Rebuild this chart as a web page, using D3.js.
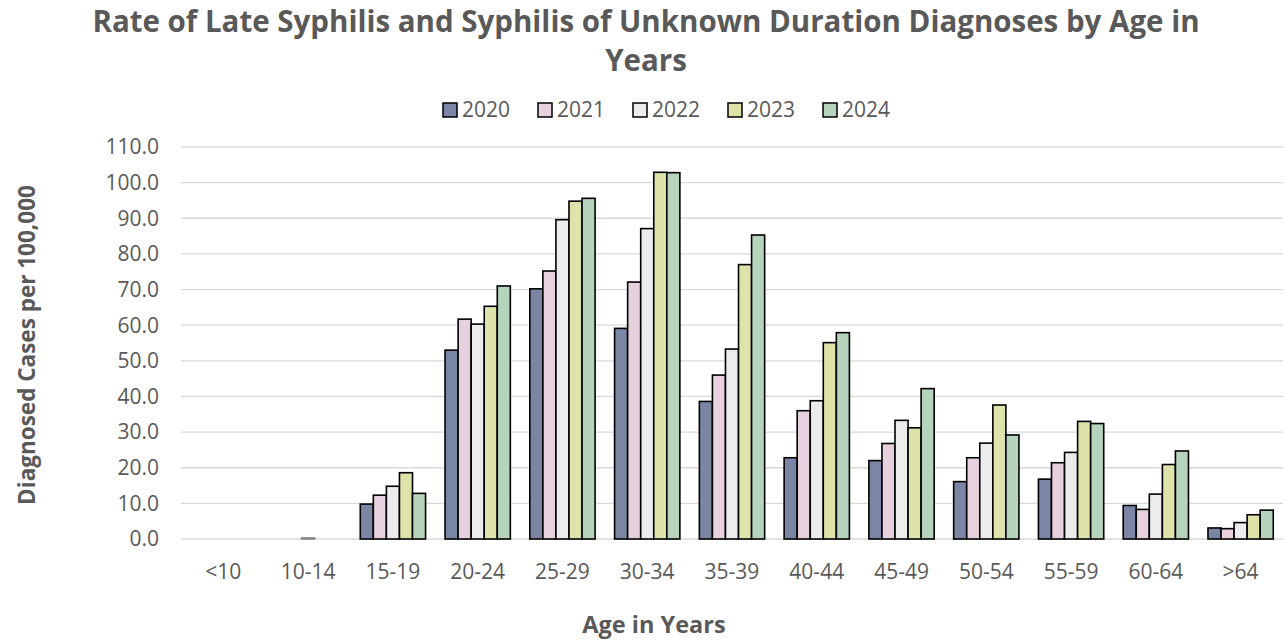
<!DOCTYPE html>
<html>
<head>
<meta charset="utf-8">
<script src="https://cdn.jsdelivr.net/npm/d3@7"></script>
<style>
  body { margin: 0; background: #fff; }
  text { font-family: "Open Sans", "Noto Sans", sans-serif; }
</style>
</head>
<body>
<svg id="chart" width="1286" height="644"></svg>
<script>
// age groups along the x axis
const ageGroups = ["<10", "10-14", "15-19", "20-24", "25-29", "30-34", "35-39", "40-44", "45-49", "50-54", "55-59", "60-64", ">64"];
const years = ["2020", "2021", "2022", "2023", "2024"];
const yearColors = ["#7b85a4", "#e7d1df", "#ececec", "#dee3aa", "#b6d4bb"];

// rates per 100,000
const rate2020 = [0, 0, 9.8, 53.0, 70.2, 59.1, 38.6, 22.8, 22.0, 16.1, 16.8, 9.4, 3.1];
const rate2021 = [0, 0, 12.3, 61.7, 75.2, 72.1, 46.0, 36.0, 26.8, 22.8, 21.4, 8.3, 2.9];
const rate2022 = [0, 0.3, 14.8, 60.3, 89.6, 87.1, 53.3, 38.8, 33.3, 26.9, 24.3, 12.6, 4.6];
const rate2023 = [0, 0, 18.6, 65.3, 94.8, 102.9, 77.0, 55.1, 31.2, 37.6, 33.0, 20.9, 6.8];
const rate2024 = [0, 0, 12.8, 71.0, 95.6, 102.8, 85.3, 57.9, 42.2, 29.2, 32.4, 24.7, 8.1];
const allRates = [rate2020, rate2021, rate2022, rate2023, rate2024];

const yTicks = d3.range(0, 111, 10);

const svg = d3.select("#chart");
const plot = { left: 181, right: 1283, top: 147, bottom: 539 };

const x = d3.scaleBand().domain(ageGroups).range([plot.left, plot.right]).paddingInner(0.23).paddingOuter(0.115);
const xInner = d3.scaleBand().domain(years).range([0, x.bandwidth()]);
const y = d3.scaleLinear().domain([0, 110]).range([plot.bottom, plot.top]);

// gridlines
svg.append("g")
    .selectAll("line")
    .data(yTicks)
    .join("line")
    .attr("x1", plot.left).attr("x2", plot.right)
    .attr("y1", d => y(d)).attr("y2", d => y(d))
    .attr("stroke", "#d9d9d9")
    .attr("stroke-width", 1.3);

// y tick labels
svg.append("g")
    .selectAll("text")
    .data(yTicks)
    .join("text")
    .attr("x", 159)
    .attr("y", d => y(d))
    .attr("dy", "0.35em")
    .attr("text-anchor", "end")
    .attr("font-size", 21)
    .attr("fill", "#595959")
    .text(d => d3.format(".1f")(d));

// bars
const groups = svg.append("g")
    .selectAll("g")
    .data(ageGroups)
    .join("g")
    .attr("transform", d => "translate(" + x(d) + ",0)");

groups.selectAll("rect")
    .data((d, i) => years.map((yr, j) => ({ year: yr, j: j, value: allRates[j][i] })))
    .join("rect")
    .attr("x", d => xInner(d.year))
    .attr("width", xInner.bandwidth())
    .attr("y", d => y(d.value))
    .attr("height", d => y(0) - y(d.value))
    .attr("fill", d => yearColors[d.j])
    .attr("stroke", d => d.value >= 1 ? "#000" : d.value > 0 ? "#888" : "none")
    .attr("stroke-width", 1.6);

// x labels
svg.append("g")
    .selectAll("text")
    .data(ageGroups)
    .join("text")
    .attr("x", d => x(d) + x.bandwidth() / 2)
    .attr("y", 579)
    .attr("text-anchor", "middle")
    .attr("font-size", 21)
    .attr("fill", "#595959")
    .text(d => d);

// title
const title = svg.append("text")
    .attr("text-anchor", "middle")
    .attr("font-size", 29.5)
    .attr("font-weight", "bold")
    .attr("fill", "#595959");
title.append("tspan").attr("x", 646).attr("y", 32).text("Rate of Late Syphilis and Syphilis of Unknown Duration Diagnoses by Age in");
title.append("tspan").attr("x", 646).attr("y", 71).text("Years");

// legend
const legend = svg.append("g")
    .selectAll("g")
    .data(years)
    .join("g")
    .attr("transform", (d, i) => "translate(" + (443 + i * 95) + ",103)");
legend.append("rect")
    .attr("width", 14).attr("height", 14)
    .attr("fill", (d, i) => yearColors[i])
    .attr("stroke", "#000")
    .attr("stroke-width", 1.5);
legend.append("text")
    .attr("x", 19).attr("y", 7)
    .attr("dy", "0.35em")
    .attr("font-size", 21)
    .attr("fill", "#595959")
    .text(d => d);

// axis titles
svg.append("text")
    .attr("transform", "translate(35,345) rotate(-90)")
    .attr("text-anchor", "middle")
    .attr("font-size", 22.5)
    .attr("font-weight", "bold")
    .attr("fill", "#595959")
    .text("Diagnosed Cases per 100,000");

svg.append("text")
    .attr("x", 654)
    .attr("y", 633)
    .attr("text-anchor", "middle")
    .attr("font-size", 23.5)
    .attr("font-weight", "bold")
    .attr("fill", "#595959")
    .text("Age in Years");
</script>
</body>
</html>
